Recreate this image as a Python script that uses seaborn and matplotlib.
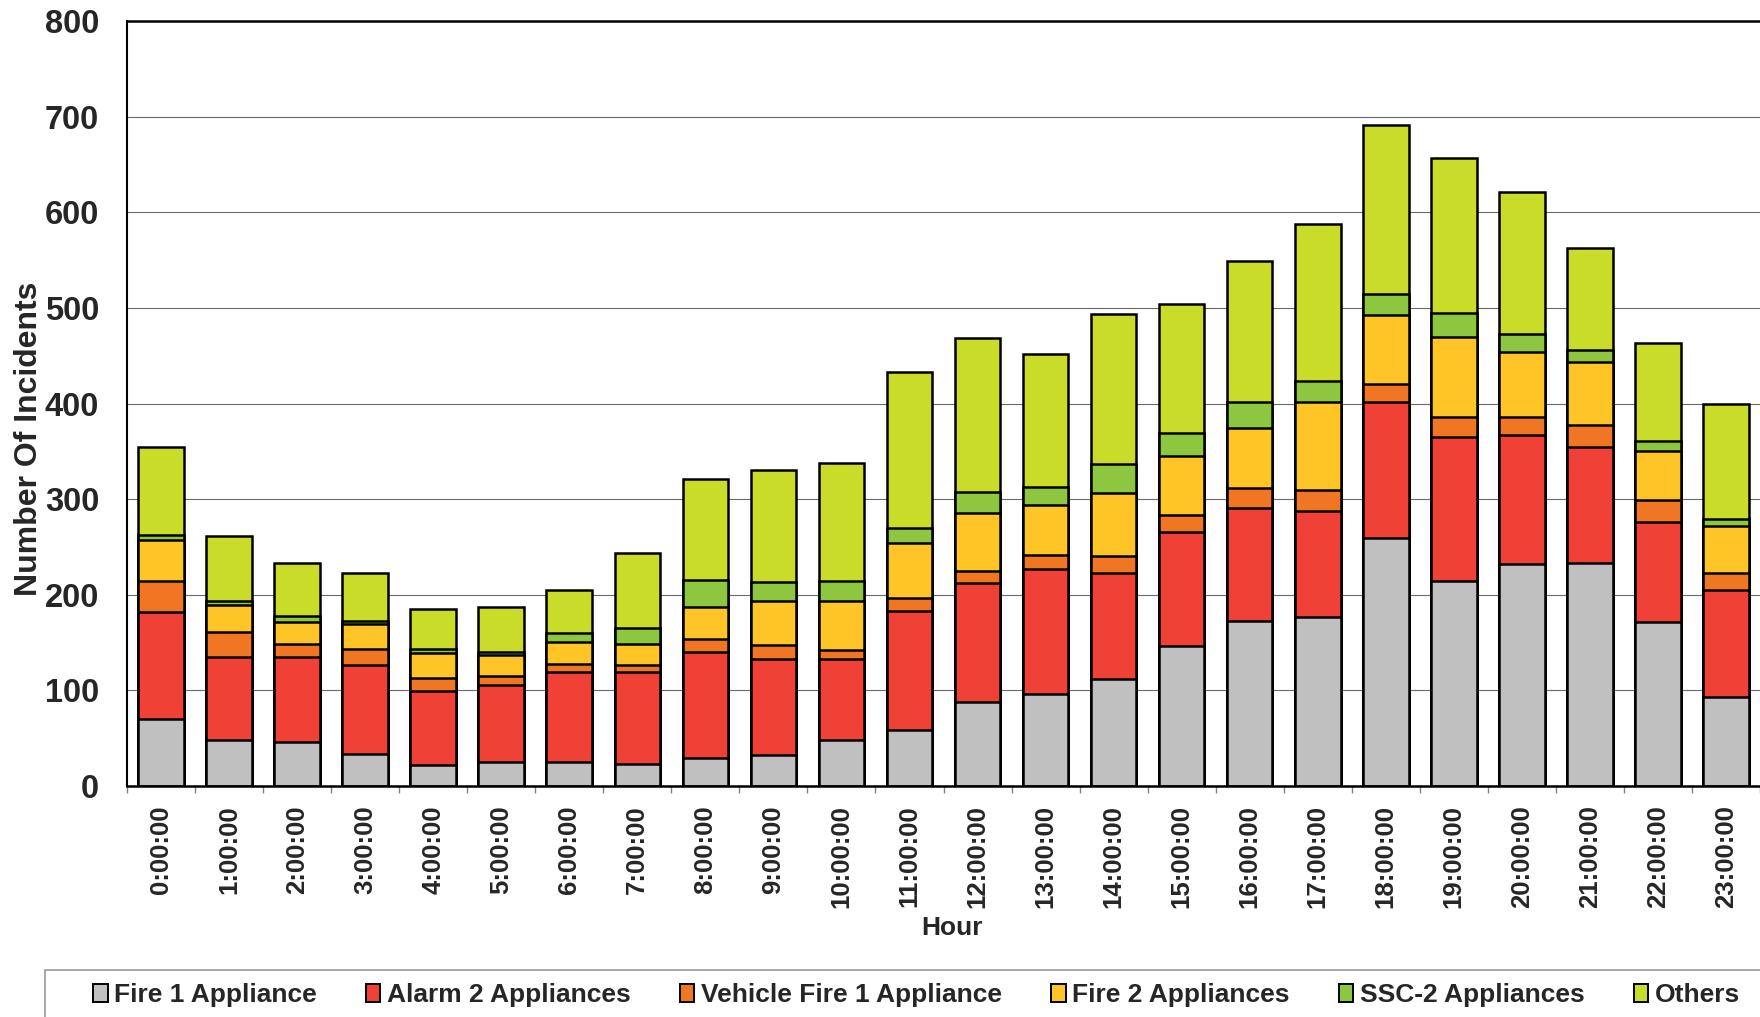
import numpy as np
import matplotlib
matplotlib.use("Agg")
import matplotlib.pyplot as plt
from matplotlib.patches import Patch, Rectangle
import seaborn as sns

# incidents per hour of day, by incident type
hours = [f"{h}:00:00" for h in range(24)]
fire_1 = [70, 48, 46, 33, 22, 25, 25, 23, 29, 32, 48, 59,
          88, 96, 112, 146, 173, 177, 259, 214, 232, 233, 171, 93]
alarm_2 = [112, 87, 89, 94, 77, 81, 94, 96, 111, 101, 85, 124,
           124, 131, 111, 120, 118, 111, 143, 151, 135, 122, 105, 112]
vehicle_fire_1 = [32, 26, 14, 16, 14, 9, 9, 8, 14, 14, 9, 14,
                  13, 15, 18, 17, 21, 22, 18, 21, 19, 22, 23, 18]
fire_2 = [43, 28, 23, 26, 26, 22, 23, 21, 33, 46, 51, 57,
          61, 52, 65, 62, 62, 92, 73, 84, 68, 66, 51, 49]
ssc_2 = [6, 4, 6, 4, 4, 3, 9, 17, 28, 20, 21, 16,
         21, 19, 31, 24, 28, 22, 22, 25, 19, 13, 11, 7]
others = [92, 68, 55, 50, 42, 47, 45, 79, 106, 117, 124, 163,
          161, 139, 157, 135, 147, 164, 176, 162, 148, 107, 102, 120]

series = [fire_1, alarm_2, vehicle_fire_1, fire_2, ssc_2, others]
labels = ["Fire 1 Appliance", "Alarm 2 Appliances", "Vehicle Fire 1 Appliance",
          "Fire 2 Appliances", "SSC-2 Appliances", "Others"]
colors = ["#C0C0C0", "#EF4136", "#F07623", "#FFC425", "#8DC63F", "#CADC2A"]

sns.set_style("white")
plt.rcParams["font.family"] = ["Liberation Sans", "DejaVu Sans"]
plt.rcParams["font.weight"] = "bold"

fig = plt.figure(figsize=(17.6, 10.17), dpi=100)
ax = fig.add_axes([127 / 1760, 1 - 786 / 1017, 1 - 127 / 1760, (786 - 21) / 1017])
ax.set_axisbelow(True)
ax.yaxis.grid(True, color="#6a6a6a", linewidth=0.8)

# stack by drawing cumulative totals, tallest first
cum = np.cumsum(np.array(series), axis=0)
for i in range(len(series) - 1, -1, -1):
    sns.barplot(x=hours, y=cum[i], color=colors[i], saturation=1, width=0.67,
                edgecolor="black", linewidth=1.8, errorbar=None, ax=ax)

ax.set_ylim(0, 800)
ax.set_xlim(-0.5, 23.5)
ax.set_yticks(range(0, 801, 100))
ax.set_xticks(range(24))
ax.set_xticklabels(hours, rotation=90, fontsize=18.5, fontweight="bold")
ax.set_xticks(np.arange(-0.5, 24), minor=True)
ax.tick_params(axis="x", which="major", length=0, pad=14)
ax.tick_params(axis="x", which="minor", length=5, width=1, color="#808080", bottom=True)
ax.tick_params(axis="y", length=7, width=1, color="#808080", pad=13, labelsize=23.5)
for t in ax.get_yticklabels():
    t.set_fontweight("bold")

ax.set_xlabel("Hour", fontsize=19, fontweight="bold")
ax.set_ylabel("Number Of Incidents", fontsize=23, fontweight="bold")
ax.xaxis.set_label_coords(0.505, -0.170)
ax.yaxis.set_label_coords(-0.051, 0.454)

ax.spines["right"].set_visible(False)
ax.spines["left"].set_linewidth(1.5)
ax.spines["bottom"].set_linewidth(1.8)
ax.spines["top"].set_linewidth(1.8)
for s in ["left", "bottom", "top"]:
    ax.spines[s].set_color("black")

handles = [Patch(facecolor=c, edgecolor="black", linewidth=1.4) for c in colors]
fig.legend(handles, labels, loc="center left",
           bbox_to_anchor=(93 / 1760, 1 - 995 / 1017, (1740 - 93) / 1760, 0),
           mode="expand", ncol=6, frameon=False, borderpad=0, borderaxespad=0,
           handlelength=0.55, handleheight=0.7, handletextpad=0.25,
           prop={"size": 19, "weight": "bold"})
fig.add_artist(Rectangle((45 / 1760, -0.05), 1.1, 0.05 + (1017 - 970) / 1017,
                         transform=fig.transFigure, fill=False,
                         edgecolor="#a0a0a0", linewidth=1.3))

fig.savefig("out.png", dpi=100)
